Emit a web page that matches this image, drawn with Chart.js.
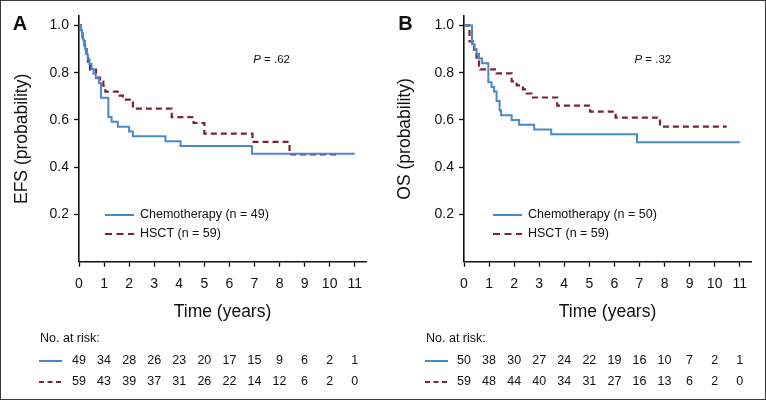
<!DOCTYPE html>
<html>
<head>
<meta charset="utf-8">
<script src="https://cdn.jsdelivr.net/npm/chart.js@4"></script>
<style>
  body { margin: 0; background: #fff; }
  #wrap { position: relative; width: 766px; height: 400px; }
  #wrap canvas { position: absolute; top: 0; }
  #frame { position: absolute; left: 0; top: 0; width: 766px; height: 400px;
           box-sizing: border-box; border: 1.5px solid #3a3a3a; pointer-events: none; }
</style>
</head>
<body>
<div id="wrap">
  <canvas id="efs" width="383" height="400" style="left:0;width:383px;height:400px"></canvas>
  <canvas id="os" width="383" height="400" style="left:383px;width:383px;height:400px"></canvas>
  <div id="frame"></div>
</div>
<script>
const yearTicks = [0, 1, 2, 3, 4, 5, 6, 7, 8, 9, 10, 11];
const probTicks = [0.2, 0.4, 0.6, 0.8, 1.0];

const efsChemoT = [0, 0.08, 0.12, 0.16, 0.2, 0.25, 0.3, 0.35, 0.42, 0.5, 0.58, 0.67, 0.8, 0.88, 1.17, 1.3, 1.55, 2.0, 2.15, 3.45, 4.05, 6.9, 11.0];
const efsChemoS = [1, 0.980, 0.959, 0.939, 0.918, 0.898, 0.878, 0.857, 0.837, 0.816, 0.796, 0.776, 0.755, 0.694, 0.612, 0.592, 0.571, 0.551, 0.531, 0.510, 0.490, 0.457, 0.457];
const efsHsctT = [0, 0.08, 0.14, 0.22, 0.3, 0.36, 0.44, 0.68, 0.76, 0.84, 0.97, 1.05, 1.62, 1.75, 2.15, 3.7, 4.57, 5.0, 6.92, 8.4, 10.4];
const efsHsctS = [1, 0.983, 0.949, 0.915, 0.881, 0.847, 0.813, 0.796, 0.779, 0.762, 0.745, 0.72, 0.703, 0.686, 0.648, 0.612, 0.587, 0.542, 0.507, 0.454, 0.454];

const osChemoT = [0, 0.32, 0.42, 0.5, 0.6, 0.72, 0.97, 1.1, 1.2, 1.3, 1.42, 1.48, 1.9, 2.2, 2.8, 3.48, 6.9, 11.0];
const osChemoS = [1, 0.92, 0.90, 0.88, 0.86, 0.84, 0.76, 0.74, 0.72, 0.68, 0.64, 0.62, 0.60, 0.58, 0.56, 0.54, 0.506, 0.506];
const osHsctT = [0, 0.22, 0.4, 0.5, 0.6, 0.65, 1.3, 1.9, 2.1, 2.35, 2.5, 2.7, 3.72, 5.03, 6.05, 7.82, 10.48];
const osHsctS = [1, 0.932, 0.898, 0.864, 0.83, 0.814, 0.797, 0.763, 0.746, 0.729, 0.712, 0.695, 0.661, 0.635, 0.61, 0.572, 0.572];

const efsRiskChemo = [49, 34, 28, 26, 23, 20, 17, 15, 9, 6, 2, 1];
const efsRiskHsct = [59, 43, 39, 37, 31, 26, 22, 14, 12, 6, 2, 0];
const osRiskChemo = [50, 38, 30, 27, 24, 22, 19, 16, 10, 7, 2, 1];
const osRiskHsct = [59, 48, 44, 40, 34, 31, 27, 16, 13, 6, 2, 0];

const BLUE = '#4a88cc';
const MAROON = '#7d1f3f';
const INK = '#111';
const SANS = '"Liberation Sans", Arial, sans-serif';

function pts(t, s) {
    return t.map((v, i) => ({x: v, y: s[i]}));
}

// panel letter, P value, legend and risk table
const extras = {
    id: 'extras',
    afterDraw(chart, args, o) {
        const ctx = chart.ctx;
        const xs = chart.scales.x, ys = chart.scales.y;
        const left = chart.chartArea.left;
        ctx.save();
        ctx.fillStyle = INK;
        ctx.textBaseline = 'middle';

        ctx.font = 'bold 20px ' + SANS;
        ctx.textAlign = 'center';
        ctx.fillText(o.letter, o.letterX, 24);

        // P value
        let px = xs.getPixelForValue(o.pAt[0]), py = ys.getPixelForValue(o.pAt[1]);
        ctx.textAlign = 'left';
        ctx.font = 'italic 11.5px ' + SANS;
        ctx.fillText('P', px, py);
        px += ctx.measureText('P').width;
        ctx.font = '11.5px ' + SANS;
        ctx.fillText(' = ' + o.p, px, py);

        // legend
        const rows = [[BLUE, [], o.names[0], 215], [MAROON, [7, 4.5], o.names[1], 234]];
        ctx.font = '12.5px ' + SANS;
        rows.forEach(r => {
            ctx.strokeStyle = r[0];
            ctx.lineWidth = 2;
            ctx.setLineDash(r[1]);
            ctx.beginPath();
            ctx.moveTo(left + o.legX, r[3]);
            ctx.lineTo(left + o.legX + 29, r[3]);
            ctx.stroke();
            ctx.fillStyle = INK;
            ctx.fillText(r[2], left + o.legX + 35, r[3]);
        });

        // number at risk
        ctx.setLineDash([]);
        ctx.fillText('No. at risk:', o.riskX, 339);
        const risk = [[BLUE, [], o.risk[0], 361], [MAROON, [5, 3.5], o.risk[1], 382]];
        risk.forEach(r => {
            ctx.strokeStyle = r[0];
            ctx.lineWidth = 2;
            ctx.setLineDash(r[1]);
            ctx.beginPath();
            ctx.moveTo(o.riskX - 1, r[3]);
            ctx.lineTo(o.riskX + 22, r[3]);
            ctx.stroke();
            ctx.textAlign = 'center';
            ctx.fillStyle = INK;
            r[2].forEach((n, i) => ctx.fillText(String(n), xs.getPixelForValue(yearTicks[i]), r[3]));
            ctx.textAlign = 'left';
        });
        ctx.restore();
    }
};

function panel(id, yTitle, chemo, hsct, extra) {
    return new Chart(document.getElementById(id), {
        type: 'line',
        data: {
            datasets: [{
                data: chemo,
                borderColor: BLUE,
                borderWidth: 2,
                stepped: true,
                pointRadius: 0
            }, {
                data: hsct,
                borderColor: MAROON,
                borderWidth: 2.2,
                borderDash: [6, 4],
                stepped: true,
                pointRadius: 0
            }]
        },
        options: {
            responsive: false,
            animation: false,
            layout: {padding: {top: 16, right: extra.padRight, left: 0, bottom: 0}},
            plugins: {
                legend: {display: false},
                tooltip: {enabled: false},
                extras: extra
            },
            scales: {
                x: {
                    type: 'linear',
                    min: 0,
                    max: 11.45,
                    afterBuildTicks: s => { s.ticks = yearTicks.map(v => ({value: v})); },
                    afterFit: s => { s.height = 138.3; },
                    grid: {drawOnChartArea: false, tickLength: 5, color: INK, tickWidth: 1.3},
                    border: {color: INK, width: 1.6},
                    ticks: {color: INK, font: {family: SANS, size: 14}, padding: 9, maxRotation: 0},
                    title: {display: true, text: 'Time (years)', color: INK,
                            font: {family: SANS, size: 17.5}, padding: {top: 0, bottom: 77}}
                },
                y: {
                    min: 0,
                    max: 1.04,
                    afterBuildTicks: s => { s.ticks = probTicks.map(v => ({value: v})); },
                    afterFit: s => { s.width = extra.axisLeft; },
                    grid: {drawOnChartArea: false, tickLength: 5, color: INK, tickWidth: 1.3},
                    border: {color: INK, width: 1.6},
                    ticks: {color: INK, font: {family: SANS, size: 14}, padding: 5,
                            callback: v => v.toFixed(1)},
                    title: {display: true, text: yTitle, color: INK,
                            font: {family: SANS, size: 17.5}, padding: {top: 11.5, bottom: 0}}
                }
            }
        },
        plugins: [extras]
    });
}

panel('efs', 'EFS (probability)', pts(efsChemoT, efsChemoS), pts(efsHsctT, efsHsctS), {
    letter: 'A', letterX: 20, axisLeft: 79, padRight: 17,
    pAt: [6.95, 0.855], p: '.62', legX: 26,
    names: ['Chemotherapy (n = 49)', 'HSCT (n = 59)'],
    riskX: 40, risk: [efsRiskChemo, efsRiskHsct]
});

panel('os', 'OS (probability)', pts(osChemoT, osChemoS), pts(osHsctT, osHsctS), {
    letter: 'B', letterX: 22.5, axisLeft: 81, padRight: 15,
    pAt: [6.8, 0.855], p: '.32', legX: 29,
    names: ['Chemotherapy (n = 50)', 'HSCT (n = 59)'],
    riskX: 43, risk: [osRiskChemo, osRiskHsct]
});
</script>
</body>
</html>
